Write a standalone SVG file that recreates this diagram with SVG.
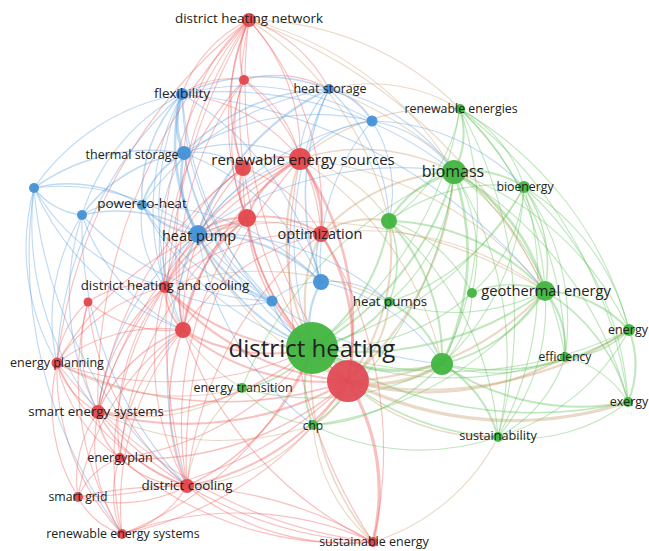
<svg xmlns="http://www.w3.org/2000/svg" width="649" height="551" viewBox="0 0 649 551">
<style>
#edges path{fill:none;stroke-opacity:.38;stroke-width:1.15}
.r{stroke:#ee5a5a}.b{stroke:#5a9fdc}.g{stroke:#5cc055}.m{stroke:#c99a68}
.w15{stroke-width:1.6!important}.w2{stroke-width:2.1!important}.w25{stroke-width:2.6!important}.w3{stroke-width:3.3!important}
.nr{fill:#e2474c;fill-opacity:.95}.nb{fill:#4591d6;fill-opacity:.95}.ng{fill:#41b53f;fill-opacity:.95}
text{font-family:"Open Sans","Liberation Sans",sans-serif;fill:#222;text-anchor:middle}
</style>
<rect width="649" height="551" fill="#fff"/>
<g id="edges">
<path class="m w3" d="M312 348A65 65 0 0 0 348 381"/>
<path class="g w3" d="M312 348A170 170 0 0 0 442 364"/>
<path class="g w2" d="M312 348A295 295 0 0 0 454 172"/>
<path class="g w2" d="M312 348A310 310 0 0 0 545 291"/>
<path class="g w2" d="M312 348A195 195 0 0 0 389 221"/>
<path class="g w2" d="M312 348A116 116 0 0 0 389 302"/>
<path class="g" d="M312 348A220 220 0 0 0 472 293"/>
<path class="g w2" d="M312 348A100 100 0 0 0 313 425"/>
<path class="g w15" d="M312 348A105 105 0 0 1 242 388"/>
<path class="g w15" d="M312 348A270 270 0 0 0 498 437"/>
<path class="g" d="M312 348A330 330 0 0 0 565 357"/>
<path class="g" d="M312 348A410 410 0 0 0 629 330"/>
<path class="g w15" d="M312 348A415 415 0 0 0 628 402"/>
<path class="g" d="M312 348A365 365 0 0 0 460 109"/>
<path class="g" d="M312 348A345 345 0 0 0 524 187"/>
<path class="m w2" d="M312 348A245 245 0 0 1 300 159"/>
<path class="m w2" d="M312 348A150 150 0 0 1 321 234"/>
<path class="r w15" d="M312 348A190 190 0 0 1 247 218"/>
<path class="r" d="M312 348A250 250 0 0 1 243 168"/>
<path class="r w2" d="M312 348A170 170 0 0 1 183 330"/>
<path class="r w2" d="M312 348A205 205 0 0 1 165 287"/>
<path class="r" d="M312 348A430 430 0 0 1 249 20"/>
<path class="r w15" d="M312 348A240 240 0 0 1 187 486"/>
<path class="r w15" d="M312 348A290 290 0 0 1 98 412"/>
<path class="r" d="M312 348A330 330 0 0 1 57 363"/>
<path class="m w15" d="M312 348A265 265 0 0 0 373 542"/>
<path class="b w2" d="M312 348A210 210 0 0 1 198 234"/>
<path class="b w2" d="M312 348A90 90 0 0 1 321 282"/>
<path class="b w15" d="M312 348A80 80 0 0 1 272 301"/>
<path class="b" d="M312 348A370 370 0 0 1 182 94"/>
<path class="b" d="M312 348A340 340 0 0 1 329 89"/>
<path class="b" d="M312 348A305 305 0 0 1 184 153"/>
<path class="b" d="M312 348A290 290 0 0 1 142 205"/>
<path class="r" d="M312 348A290 290 0 0 1 120 458"/>
<path class="r" d="M312 348A345 345 0 0 1 122 534"/>
<path class="r w3" d="M348 381A210 210 0 0 1 373 542"/>
<path class="r w2" d="M348 381A250 250 0 0 1 187 486"/>
<path class="r w2" d="M348 381A330 330 0 0 1 98 412"/>
<path class="r w15" d="M348 381A380 380 0 0 1 57 363"/>
<path class="r w15" d="M348 381A310 310 0 0 1 120 458"/>
<path class="r" d="M348 381A380 380 0 0 1 78 497"/>
<path class="r" d="M348 381A355 355 0 0 1 122 534"/>
<path class="r w2" d="M348 381A225 225 0 0 1 183 330"/>
<path class="r w2" d="M348 381A265 265 0 0 1 165 287"/>
<path class="r w25" d="M348 381A295 295 0 0 0 300 159"/>
<path class="r w25" d="M348 381A195 195 0 0 0 321 234"/>
<path class="r w2" d="M348 381A250 250 0 0 1 247 218"/>
<path class="m w2" d="M348 381A280 280 0 0 0 545 291"/>
<path class="m w2" d="M348 381A370 370 0 0 0 629 330"/>
<path class="m w3" d="M348 381A365 365 0 0 0 628 402"/>
<path class="m w3" d="M348 381A125 125 0 0 0 442 364"/>
<path class="m w2" d="M348 381A285 285 0 0 0 565 357"/>
<path class="m w2" d="M348 381A305 305 0 0 0 454 172"/>
<path class="m w15" d="M348 381A210 210 0 0 0 498 437"/>
<path class="m" d="M348 381A275 275 0 0 1 198 234"/>
<path class="r" d="M348 381A485 485 0 0 1 249 20"/>
<path class="m w2" d="M348 381A75 75 0 0 1 313 425"/>
<path class="m w2" d="M348 381A215 215 0 0 0 389 221"/>
<path class="m w2" d="M348 381A115 115 0 0 0 389 302"/>
<path class="g w2" d="M454 172A85 85 0 0 0 460 109"/>
<path class="g w2" d="M454 172A95 95 0 0 1 524 187"/>
<path class="g w2" d="M454 172A105 105 0 0 0 389 221"/>
<path class="g w25" d="M454 172A195 195 0 0 1 545 291"/>
<path class="g w25" d="M454 172A250 250 0 0 1 442 364"/>
<path class="g" d="M454 172A305 305 0 0 1 629 330"/>
<path class="g" d="M454 172A280 280 0 0 1 565 357"/>
<path class="g" d="M454 172A375 375 0 0 1 628 402"/>
<path class="g" d="M454 172A350 350 0 0 1 498 437"/>
<path class="g" d="M454 172A190 190 0 0 1 389 302"/>
<path class="g" d="M454 172A160 160 0 0 1 472 293"/>
<path class="m w15" d="M454 172A200 200 0 0 0 300 159"/>
<path class="g" d="M454 172A375 375 0 0 1 313 425"/>
<path class="g" d="M454 172A395 395 0 0 0 242 388"/>
<path class="m w2" d="M454 172A190 190 0 0 0 321 234"/>
<path class="g" d="M460 109A170 170 0 0 1 389 221"/>
<path class="g" d="M460 109A260 260 0 0 1 545 291"/>
<path class="g" d="M460 109A130 130 0 0 1 524 187"/>
<path class="g" d="M460 109A360 360 0 0 1 629 330"/>
<path class="m" d="M460 109A170 170 0 0 0 329 89"/>
<path class="g" d="M460 109A330 330 0 0 1 442 364"/>
<path class="m" d="M460 109A220 220 0 0 0 300 159"/>
<path class="g" d="M460 109A440 440 0 0 1 628 402"/>
<path class="g" d="M460 109A430 430 0 0 1 498 437"/>
<path class="g w15" d="M524 187A140 140 0 0 1 545 291"/>
<path class="g" d="M524 187A230 230 0 0 1 629 330"/>
<path class="g" d="M524 187A230 230 0 0 1 565 357"/>
<path class="g" d="M524 187A310 310 0 0 1 628 402"/>
<path class="g" d="M524 187A325 325 0 0 1 498 437"/>
<path class="g" d="M524 187A255 255 0 0 1 442 364"/>
<path class="g" d="M524 187A180 180 0 0 0 389 221"/>
<path class="g" d="M524 187A155 155 0 0 1 472 293"/>
<path class="g" d="M524 187A230 230 0 0 1 389 302"/>
<path class="g w2" d="M545 291A120 120 0 0 1 629 330"/>
<path class="g w2" d="M545 291A90 90 0 0 1 565 357"/>
<path class="g w15" d="M545 291A180 180 0 0 1 628 402"/>
<path class="g" d="M545 291A200 200 0 0 1 498 437"/>
<path class="g w2" d="M545 291A165 165 0 0 1 442 364"/>
<path class="g w15" d="M545 291A95 95 0 0 0 472 293"/>
<path class="g w2" d="M545 291A220 220 0 0 0 389 221"/>
<path class="g" d="M545 291A205 205 0 0 1 389 302"/>
<path class="g" d="M545 291A350 350 0 0 1 313 425"/>
<path class="g w15" d="M629 330A90 90 0 0 1 565 357"/>
<path class="g w2" d="M629 330A95 95 0 0 1 628 402"/>
<path class="g w15" d="M629 330A245 245 0 0 1 442 364"/>
<path class="g" d="M629 330A220 220 0 0 1 498 437"/>
<path class="g" d="M565 357A100 100 0 0 1 628 402"/>
<path class="g" d="M565 357A160 160 0 0 1 442 364"/>
<path class="g" d="M565 357A135 135 0 0 1 498 437"/>
<path class="g w2" d="M442 364A120 120 0 0 1 498 437"/>
<path class="g w2" d="M442 364A245 245 0 0 0 628 402"/>
<path class="g w2" d="M442 364A200 200 0 0 0 389 221"/>
<path class="g w2" d="M442 364A105 105 0 0 0 389 302"/>
<path class="g w15" d="M442 364A185 185 0 0 1 313 425"/>
<path class="g" d="M442 364A100 100 0 0 0 472 293"/>
<path class="g" d="M442 364A260 260 0 0 1 242 388"/>
<path class="m w2" d="M389 221A90 90 0 0 0 321 234"/>
<path class="g w15" d="M389 221A105 105 0 0 1 389 302"/>
<path class="m" d="M389 221A140 140 0 0 0 300 159"/>
<path class="g" d="M389 221A140 140 0 0 1 472 293"/>
<path class="g" d="M389 221A315 315 0 0 1 498 437"/>
<path class="b" d="M389 221A130 130 0 0 0 372 121"/>
<path class="g" d="M498 437A175 175 0 0 0 628 402"/>
<path class="g" d="M498 437A240 240 0 0 1 313 425"/>
<path class="m" d="M498 437A210 210 0 0 1 373 542"/>
<path class="m" d="M242 388A190 190 0 0 1 98 412"/>
<path class="m" d="M242 388A145 145 0 0 0 187 486"/>
<path class="m" d="M242 388A165 165 0 0 1 165 287"/>
<path class="g" d="M242 388A105 105 0 0 0 313 425"/>
<path class="m" d="M242 388A245 245 0 0 1 57 363"/>
<path class="m" d="M313 425A180 180 0 0 1 187 486"/>
<path class="m" d="M313 425A170 170 0 0 0 373 542"/>
<path class="m" d="M313 425A280 280 0 0 1 98 412"/>
<path class="r w15" d="M249 20A80 80 0 0 0 244 80"/>
<path class="r" d="M249 20A195 195 0 0 1 300 159"/>
<path class="r w15" d="M249 20A190 190 0 0 0 243 168"/>
<path class="r" d="M249 20A260 260 0 0 0 247 218"/>
<path class="r" d="M249 20A290 290 0 0 1 321 234"/>
<path class="r" d="M249 20A130 130 0 0 0 182 94"/>
<path class="r" d="M249 20A140 140 0 0 1 329 89"/>
<path class="r" d="M249 20A360 360 0 0 0 165 287"/>
<path class="r" d="M249 20A510 510 0 0 0 57 363"/>
<path class="m" d="M249 20A330 330 0 0 1 454 172"/>
<path class="r" d="M249 20A190 190 0 0 0 184 153"/>
<path class="m" d="M249 20A300 300 0 0 1 460 109"/>
<path class="r" d="M249 20A410 410 0 0 0 183 330"/>
<path class="m" d="M249 20A320 320 0 0 1 389 221"/>
<path class="r" d="M244 80A125 125 0 0 1 300 159"/>
<path class="r" d="M244 80A115 115 0 0 0 243 168"/>
<path class="r" d="M244 80A180 180 0 0 0 247 218"/>
<path class="r" d="M244 80A225 225 0 0 1 321 234"/>
<path class="r" d="M244 80A290 290 0 0 0 165 287"/>
<path class="r" d="M244 80A335 335 0 0 0 183 330"/>
<path class="r" d="M244 80A110 110 0 0 1 329 89"/>
<path class="r" d="M244 80A85 85 0 0 0 182 94"/>
<path class="r w2" d="M300 159A75 75 0 0 0 243 168"/>
<path class="r w2" d="M300 159A105 105 0 0 0 247 218"/>
<path class="r w25" d="M300 159A100 100 0 0 1 321 234"/>
<path class="r w15" d="M300 159A240 240 0 0 0 165 287"/>
<path class="r w15" d="M300 159A270 270 0 0 0 183 330"/>
<path class="r" d="M300 159A420 420 0 0 0 98 412"/>
<path class="b" d="M300 159A100 100 0 0 1 329 89"/>
<path class="b" d="M300 159A105 105 0 0 1 372 121"/>
<path class="b" d="M300 159A165 165 0 0 0 198 234"/>
<path class="r" d="M300 159A175 175 0 0 0 182 94"/>
<path class="r" d="M300 159A450 450 0 0 0 187 486"/>
<path class="r" d="M300 159A505 505 0 0 0 373 542"/>
<path class="b" d="M300 159A150 150 0 0 0 184 153"/>
<path class="m" d="M300 159A360 360 0 0 1 545 291"/>
<path class="m" d="M300 159A325 325 0 0 1 442 364"/>
<path class="r w2" d="M243 168A65 65 0 0 0 247 218"/>
<path class="r" d="M243 168A185 185 0 0 0 165 287"/>
<path class="r" d="M243 168A225 225 0 0 0 183 330"/>
<path class="b" d="M243 168A80 80 0 0 0 184 153"/>
<path class="r" d="M243 168A105 105 0 0 0 198 234"/>
<path class="r" d="M243 168A370 370 0 0 0 98 412"/>
<path class="r" d="M243 168A135 135 0 0 1 321 234"/>
<path class="r w2" d="M247 218A100 100 0 0 1 321 234"/>
<path class="r w2" d="M247 218A140 140 0 0 0 165 287"/>
<path class="r w2" d="M247 218A170 170 0 0 0 183 330"/>
<path class="r" d="M247 218A310 310 0 0 0 57 363"/>
<path class="r" d="M247 218A320 320 0 0 0 98 412"/>
<path class="r" d="M247 218A355 355 0 0 0 187 486"/>
<path class="r w2" d="M247 218A70 70 0 0 0 198 234"/>
<path class="r" d="M247 218A350 350 0 0 0 120 458"/>
<path class="r" d="M321 234A215 215 0 0 0 165 287"/>
<path class="r" d="M321 234A220 220 0 0 0 183 330"/>
<path class="r" d="M321 234A370 370 0 0 0 187 486"/>
<path class="b w15" d="M321 234A65 65 0 0 0 321 282"/>
<path class="r" d="M321 234A160 160 0 0 0 198 234"/>
<path class="m" d="M321 234A300 300 0 0 1 545 291"/>
<path class="r" d="M321 234A405 405 0 0 1 373 542"/>
<path class="r" d="M165 287A100 100 0 0 0 88 302"/>
<path class="r w2" d="M165 287A60 60 0 0 0 183 330"/>
<path class="r" d="M165 287A175 175 0 0 0 57 363"/>
<path class="r" d="M165 287A185 185 0 0 0 98 412"/>
<path class="r" d="M165 287A260 260 0 0 0 187 486"/>
<path class="r" d="M165 287A230 230 0 0 0 120 458"/>
<path class="b" d="M165 287A80 80 0 0 1 198 234"/>
<path class="b" d="M165 287A140 140 0 0 0 272 301"/>
<path class="r" d="M165 287A325 325 0 0 0 122 534"/>
<path class="m" d="M165 287A290 290 0 0 1 389 302"/>
<path class="r" d="M88 302A90 90 0 0 0 57 363"/>
<path class="r" d="M88 302A145 145 0 0 0 98 412"/>
<path class="r" d="M88 302A130 130 0 0 0 183 330"/>
<path class="r" d="M88 302A270 270 0 0 0 187 486"/>
<path class="r" d="M88 302A300 300 0 0 0 122 534"/>
<path class="r" d="M183 330A170 170 0 0 0 57 363"/>
<path class="r w15" d="M183 330A150 150 0 0 0 98 412"/>
<path class="r" d="M183 330A185 185 0 0 0 120 458"/>
<path class="r w15" d="M183 330A205 205 0 0 0 187 486"/>
<path class="r" d="M183 330A255 255 0 0 0 78 497"/>
<path class="r" d="M183 330A275 275 0 0 0 122 534"/>
<path class="r" d="M183 330A370 370 0 0 0 373 542"/>
<path class="r" d="M57 363A85 85 0 0 0 98 412"/>
<path class="r" d="M57 363A150 150 0 0 0 120 458"/>
<path class="r" d="M57 363A175 175 0 0 0 78 497"/>
<path class="r" d="M57 363A240 240 0 0 0 122 534"/>
<path class="r" d="M57 363A235 235 0 0 0 187 486"/>
<path class="r w15" d="M98 412A65 65 0 0 0 120 458"/>
<path class="r w15" d="M98 412A150 150 0 0 0 187 486"/>
<path class="r" d="M98 412A115 115 0 0 0 78 497"/>
<path class="r" d="M98 412A160 160 0 0 0 122 534"/>
<path class="r" d="M98 412A395 395 0 0 0 373 542"/>
<path class="r" d="M120 458A95 95 0 0 0 187 486"/>
<path class="r" d="M120 458A75 75 0 0 0 78 497"/>
<path class="r" d="M120 458A100 100 0 0 0 122 534"/>
<path class="r" d="M120 458A345 345 0 0 0 373 542"/>
<path class="r" d="M187 486A145 145 0 0 1 78 497"/>
<path class="r" d="M187 486A105 105 0 0 1 122 534"/>
<path class="r" d="M187 486A255 255 0 0 0 373 542"/>
<path class="r" d="M78 497A75 75 0 0 0 122 534"/>
<path class="r" d="M122 534A330 330 0 0 1 373 542"/>
<path class="r" d="M78 497A400 400 0 0 1 373 542"/>
<path class="r" d="M57 363A470 470 0 0 0 373 542"/>
<path class="b w15" d="M182 94A190 190 0 0 1 329 89"/>
<path class="b w3" d="M182 94A75 75 0 0 0 184 153"/>
<path class="b" d="M182 94A225 225 0 0 0 34 188"/>
<path class="b" d="M182 94A205 205 0 0 0 82 215"/>
<path class="b w15" d="M182 94A150 150 0 0 0 142 205"/>
<path class="b w25" d="M182 94A185 185 0 0 0 198 234"/>
<path class="b" d="M182 94A250 250 0 0 1 372 121"/>
<path class="b" d="M182 94A305 305 0 0 1 321 282"/>
<path class="b" d="M182 94A295 295 0 0 0 272 301"/>
<path class="b" d="M182 94A305 305 0 0 0 183 330"/>
<path class="b" d="M182 94A250 250 0 0 0 165 287"/>
<path class="b" d="M182 94A370 370 0 0 1 454 172"/>
<path class="b" d="M182 94A385 385 0 0 0 57 363"/>
<path class="b w2" d="M329 89A70 70 0 0 1 372 121"/>
<path class="b w15" d="M329 89A205 205 0 0 0 184 153"/>
<path class="b w2" d="M329 89A255 255 0 0 0 198 234"/>
<path class="b w15" d="M329 89A250 250 0 0 0 321 282"/>
<path class="b" d="M329 89A195 195 0 0 1 454 172"/>
<path class="b" d="M329 89A190 190 0 0 1 389 221"/>
<path class="b" d="M329 89A285 285 0 0 0 142 205"/>
<path class="b" d="M372 121A270 270 0 0 0 198 234"/>
<path class="b" d="M372 121A220 220 0 0 0 321 282"/>
<path class="b" d="M372 121A125 125 0 0 1 454 172"/>
<path class="b" d="M372 121A245 245 0 0 0 184 153"/>
<path class="b" d="M372 121A215 215 0 0 1 524 187"/>
<path class="b w15" d="M184 153A200 200 0 0 0 34 188"/>
<path class="b w15" d="M184 153A155 155 0 0 0 82 215"/>
<path class="b w2" d="M184 153A90 90 0 0 0 142 205"/>
<path class="b w25" d="M184 153A105 105 0 0 0 198 234"/>
<path class="b" d="M184 153A245 245 0 0 1 321 282"/>
<path class="b" d="M184 153A225 225 0 0 0 272 301"/>
<path class="b" d="M184 153A175 175 0 0 0 165 287"/>
<path class="b w15" d="M34 188A70 70 0 0 0 82 215"/>
<path class="b w15" d="M34 188A140 140 0 0 1 142 205"/>
<path class="b" d="M34 188A220 220 0 0 1 198 234"/>
<path class="b" d="M34 188A230 230 0 0 0 57 363"/>
<path class="b" d="M34 188A215 215 0 0 0 165 287"/>
<path class="b" d="M34 188A265 265 0 0 0 183 330"/>
<path class="b" d="M34 188A300 300 0 0 0 98 412"/>
<path class="b" d="M34 188A435 435 0 0 0 187 486"/>
<path class="b" d="M82 215A80 80 0 0 1 142 205"/>
<path class="b w15" d="M82 215A155 155 0 0 1 198 234"/>
<path class="b" d="M82 215A195 195 0 0 0 57 363"/>
<path class="b" d="M82 215A255 255 0 0 0 98 412"/>
<path class="b" d="M82 215A200 200 0 0 0 183 330"/>
<path class="b" d="M82 215A270 270 0 0 0 272 301"/>
<path class="b" d="M82 215A380 380 0 0 0 187 486"/>
<path class="b w2" d="M142 205A80 80 0 0 0 198 234"/>
<path class="b" d="M142 205A255 255 0 0 1 321 282"/>
<path class="b" d="M142 205A110 110 0 0 0 165 287"/>
<path class="b" d="M142 205A210 210 0 0 0 272 301"/>
<path class="b w2" d="M198 234A170 170 0 0 1 321 282"/>
<path class="b w2" d="M198 234A130 130 0 0 0 272 301"/>
<path class="b" d="M198 234A265 265 0 0 1 389 302"/>
<path class="b" d="M198 234A360 360 0 0 0 442 364"/>
<path class="m" d="M198 234A455 455 0 0 1 545 291"/>
<path class="b" d="M198 234A330 330 0 0 0 187 486"/>
<path class="b" d="M198 234A290 290 0 0 0 313 425"/>
<path class="b" d="M198 234A125 125 0 0 0 183 330"/>
<path class="b" d="M198 234A340 340 0 0 1 454 172"/>
<path class="b" d="M198 234A265 265 0 0 0 98 412"/>
<path class="b" d="M321 282A70 70 0 0 0 272 301"/>
<path class="b" d="M321 282A90 90 0 0 1 389 302"/>
<path class="b" d="M321 282A190 190 0 0 1 442 364"/>
<path class="m" d="M249 20A520 520 0 0 1 545 291"/>
<path class="b" d="M182 94A540 540 0 0 1 545 291"/>
<path class="g" d="M460 109A350 350 0 0 1 565 357"/>
<path class="m" d="M329 89A385 385 0 0 1 545 291"/>
<path class="b" d="M34 188A465 465 0 0 0 122 534"/>
<path class="r" d="M249 20A545 545 0 0 0 98 412"/>
<path class="r" d="M249 20A610 610 0 0 0 187 486"/>
</g>
<g id="n-r2"><circle class="nr" cx="244" cy="80" r="5"/></g>
<g id="n-r4"><circle class="nr" cx="243" cy="168" r="8"/></g>
<g id="n-r5"><circle class="nr" cx="247" cy="218" r="9"/></g>
<g id="n-r8"><circle class="nr" cx="88" cy="302" r="4.5"/></g>
<g id="n-r9"><circle class="nr" cx="183" cy="330" r="8"/></g>
<g id="n-b3"><circle class="nb" cx="372" cy="121" r="5.5"/></g>
<g id="n-b5"><circle class="nb" cx="34" cy="188" r="5"/></g>
<g id="n-b6"><circle class="nb" cx="82" cy="215" r="5"/></g>
<g id="n-b9"><circle class="nb" cx="321" cy="282" r="8"/></g>
<g id="n-b10"><circle class="nb" cx="272" cy="301" r="5.5"/></g>
<g id="n-g5"><circle class="ng" cx="389" cy="221" r="8"/></g>
<g id="n-g7"><circle class="ng" cx="472" cy="293" r="5"/></g>
<g id="n-g11"><circle class="ng" cx="442" cy="364" r="11"/></g>
<g id="n-district-heating"><circle class="ng" cx="312" cy="348" r="26"/><text x="312" y="357" font-size="24">district heating</text></g>
<g id="n-r10"><circle cx="348" cy="381" r="21" fill="#e04853" fill-opacity=".93"/></g>
<g id="n-district-heating-network"><circle class="nr" cx="249" cy="20" r="7"/><text x="249" y="23" font-size="13.4">district heating network</text></g>
<g id="n-flexibility"><circle class="nb" cx="182" cy="94" r="6"/><text x="182" y="98" font-size="13.5">flexibility</text></g>
<g id="n-heat-storage"><circle class="nb" cx="329" cy="89" r="5"/><text x="330" y="93" font-size="12.5">heat storage</text></g>
<g id="n-renewable-energies"><circle class="ng" cx="460" cy="109" r="5"/><text x="461" y="113" font-size="12.4">renewable energies</text></g>
<g id="n-thermal-storage"><circle class="nb" cx="184" cy="153" r="7"/><text x="132" y="159" font-size="12.5">thermal storage</text></g>
<g id="n-renewable-energy-sources"><circle class="nr" cx="300" cy="159" r="11"/><text x="303" y="165" font-size="15">renewable energy sources</text></g>
<g id="n-biomass"><circle class="ng" cx="454" cy="172" r="12"/><text x="453" y="177" font-size="16">biomass</text></g>
<g id="n-bioenergy"><circle class="ng" cx="524" cy="187" r="6"/><text x="525" y="191" font-size="12.3">bioenergy</text></g>
<g id="n-power-to-heat"><circle class="nb" cx="142" cy="205" r="5"/><text x="142" y="208" font-size="13.5">power-to-heat</text></g>
<g id="n-heat-pump"><circle class="nb" cx="198" cy="234" r="9"/><text x="199" y="241" font-size="14.5">heat pump</text></g>
<g id="n-optimization"><circle class="nr" cx="321" cy="234" r="8"/><text x="320" y="239" font-size="14.5">optimization</text></g>
<g id="n-district-heating-and-cooling"><circle class="nr" cx="165" cy="287" r="6"/><text x="165" y="290" font-size="13.4">district heating and cooling</text></g>
<g id="n-geothermal-energy"><circle class="ng" cx="545" cy="291" r="10"/><text x="546" y="296" font-size="14.7">geothermal energy</text></g>
<g id="n-heat-pumps"><circle class="ng" cx="389" cy="302" r="5"/><text x="390" y="306" font-size="13.3">heat pumps</text></g>
<g id="n-energy"><circle class="ng" cx="629" cy="330" r="6"/><text x="628" y="334" font-size="12.5">energy</text></g>
<g id="n-efficiency"><circle class="ng" cx="565" cy="357" r="5"/><text x="565" y="361" font-size="12.1">efficiency</text></g>
<g id="n-energy-planning"><circle class="nr" cx="57" cy="363" r="5.5"/><text x="57" y="367" font-size="12.5">energy planning</text></g>
<g id="n-energy-transition"><circle class="ng" cx="242" cy="388" r="5"/><text x="243" y="392" font-size="12.5">energy transition</text></g>
<g id="n-exergy"><circle class="ng" cx="628" cy="402" r="5"/><text x="629" y="406" font-size="12.5">exergy</text></g>
<g id="n-smart-energy-systems"><circle class="nr" cx="98" cy="412" r="7"/><text x="96" y="416" font-size="13.3">smart energy systems</text></g>
<g id="n-chp"><circle class="ng" cx="313" cy="425" r="5"/><text x="313" y="430" font-size="12">chp</text></g>
<g id="n-sustainability"><circle class="ng" cx="498" cy="437" r="5"/><text x="498" y="440" font-size="12.7">sustainability</text></g>
<g id="n-energyplan"><circle class="nr" cx="120" cy="458" r="5"/><text x="120" y="462" font-size="12.5">energyplan</text></g>
<g id="n-district-cooling"><circle class="nr" cx="187" cy="486" r="7"/><text x="187" y="490" font-size="13.4">district cooling</text></g>
<g id="n-smart-grid"><circle class="nr" cx="78" cy="497" r="5"/><text x="78" y="501" font-size="12.3">smart grid</text></g>
<g id="n-renewable-energy-systems"><circle class="nr" cx="122" cy="534" r="5"/><text x="123" y="538" font-size="12.4">renewable energy systems</text></g>
<g id="n-sustainable-energy"><circle class="nr" cx="373" cy="542" r="5"/><text x="374" y="546" font-size="12.5">sustainable energy</text></g>
</svg>
